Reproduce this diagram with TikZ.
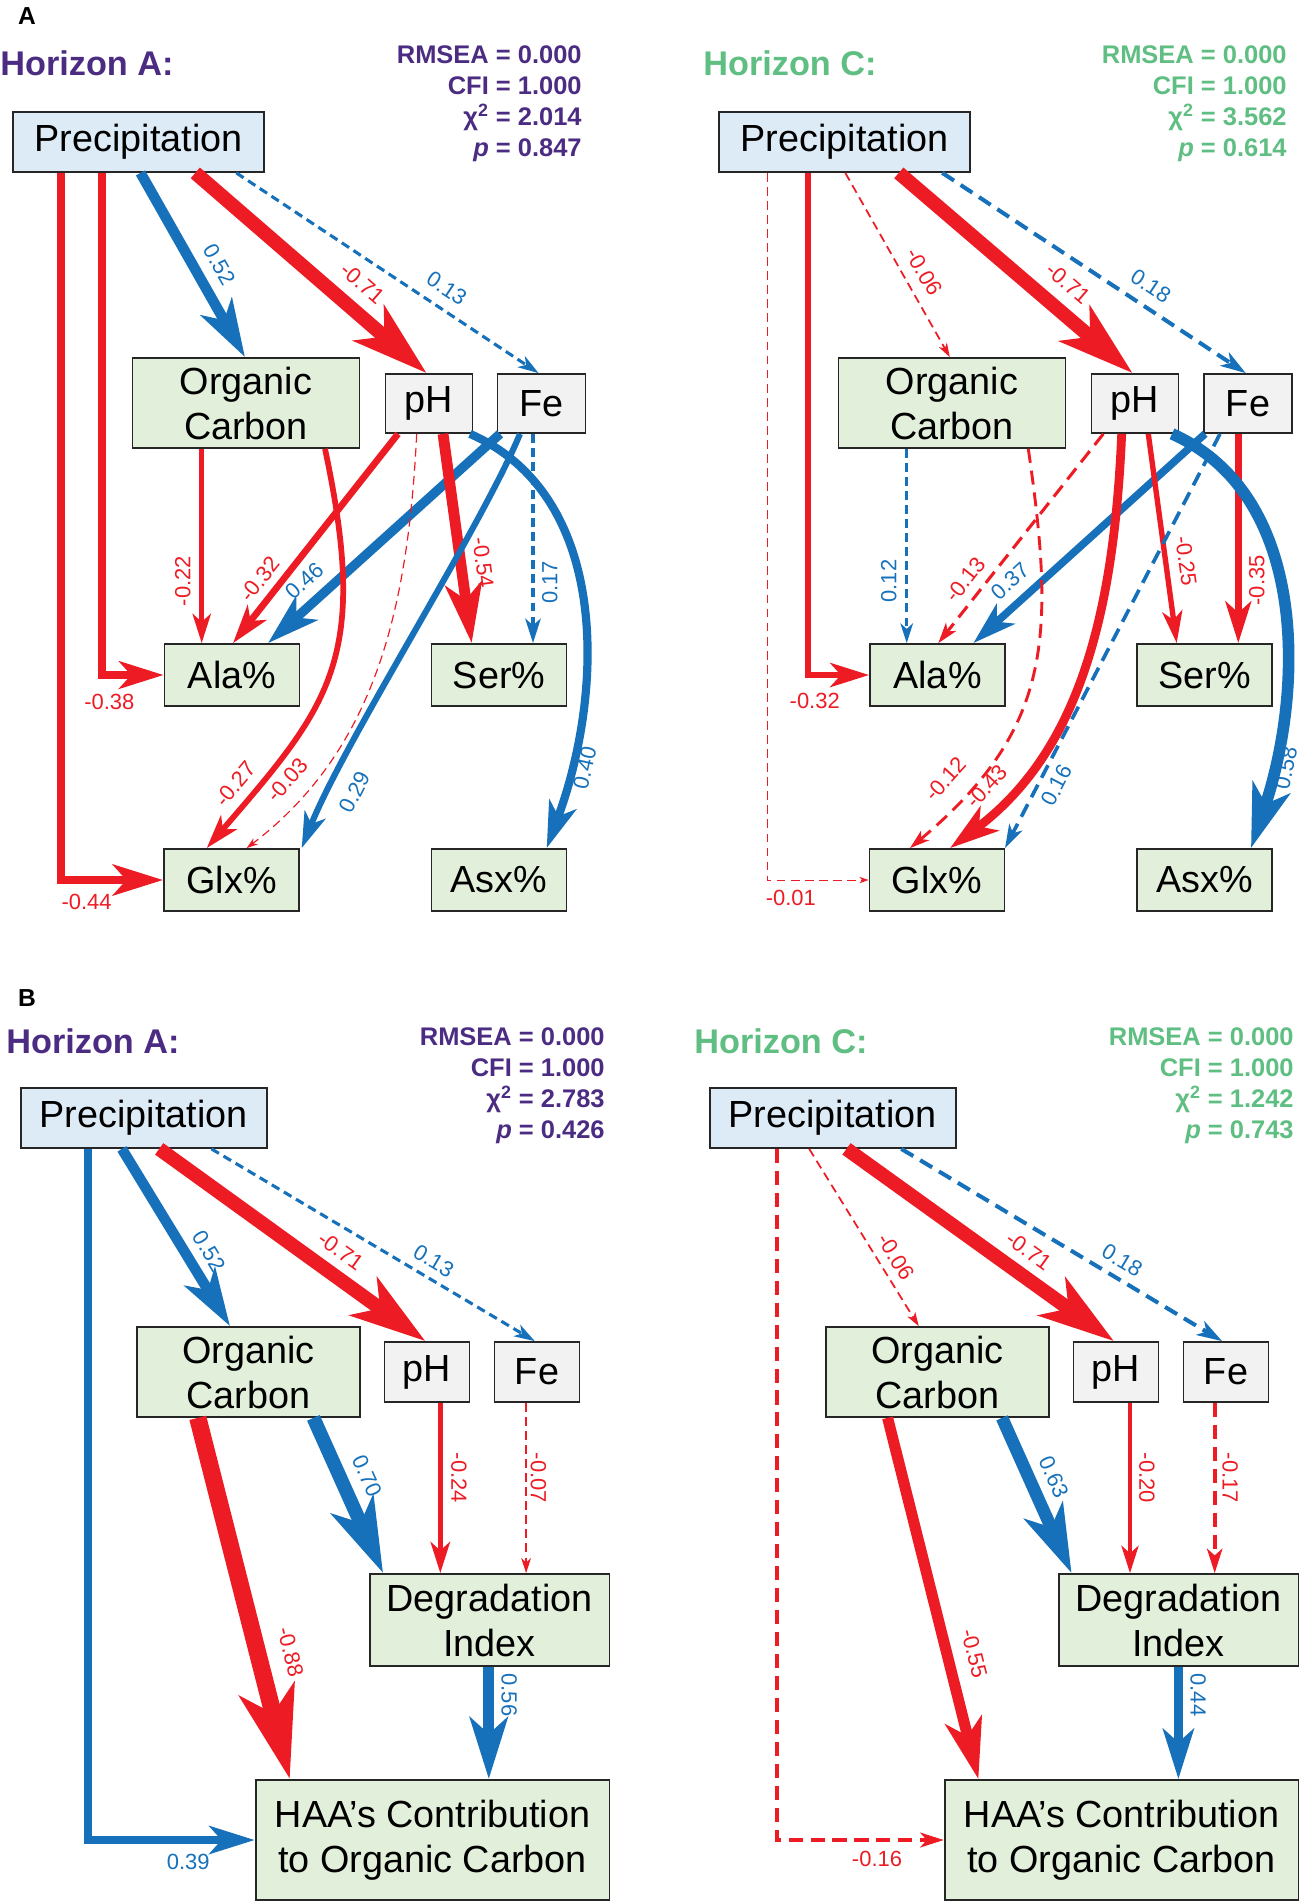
\documentclass[tikz,border=0pt]{standalone}
\usepackage{fontspec}
\setmainfont{Liberation Sans}
\usetikzlibrary{arrows.meta}

\definecolor{pathred}{RGB}{237,28,36}
\definecolor{pathblue}{RGB}{22,113,186}
\definecolor{horA}{RGB}{75,44,130}
\definecolor{horC}{RGB}{95,190,130}
\definecolor{fillblue}{RGB}{221,235,247}
\definecolor{fillgreen}{RGB}{226,239,218}
\definecolor{fillgray}{RGB}{242,242,242}

\tikzset{
  box/.style={draw=black!85, line width=1pt, align=center, inner sep=0pt,
    font=\fontsize{21.5}{25.6}\selectfont},
  precbox/.style={box, fill=fillblue},
  varbox/.style={box, fill=fillgreen},
  soilbox/.style={box, fill=fillgray},
  aabox/.style={varbox, minimum width=2.7cm, minimum height=1.24cm},
  wt/.style={line width=0.35pt+10.8pt*#1},
  rd/.style={color=pathred},
  bl/.style={color=pathblue},
  dsh/.style={dash pattern=on 5pt off 3pt},
  dshb/.style={dash pattern=on 8pt off 4.5pt},
  arr/.style={-{Stealth[length=3pt 5, width=2.2pt 3, inset=1pt 1.3]}},
  lbl/.style={inner sep=1pt, font=\fontsize{12.5}{14}\selectfont},
  horizon/.style={anchor=west, inner sep=0pt, font=\bfseries\fontsize{19.5}{23}\selectfont},
  fit stats/.style={anchor=east, align=right, inner sep=0pt,
    font=\bfseries\fontsize{14.5}{17.6}\selectfont},
  panel/.style={inner sep=0pt, font=\bfseries\fontsize{14}{16}\selectfont}
}

\begin{document}
\begin{tikzpicture}[x=0.02cm, y=-0.02cm]
  \useasboundingbox (0,0) rectangle (1299,1901);

  \node[panel] (lblA) at (27,16) {A};
  \node[panel] (lblB) at (27,998) {B};

  % A, horizon A
  \begin{scope}[name prefix=aa-]
    \node[horizon, text=horA] (ttl) at (0,63) {Horizon A:};
    \node[fit stats, text=horA] (fit) at (582,104) {RMSEA = 0.000\\CFI = 1.000\\χ\textsuperscript{2} = 2.014\\\textit{p} = 0.847};
    \node[precbox, minimum width=5.02cm, minimum height=1.2cm] (pr) at (138.5,142) {Precipitation};
    \node[varbox, minimum width=4.54cm, minimum height=1.8cm] (oc) at (246,403) {Organic\\Carbon};
    \node[soilbox, minimum width=1.74cm, minimum height=1.18cm] (ph) at (429,403.5) {pH};
    \node[soilbox, minimum width=1.76cm, minimum height=1.18cm] (fe) at (541.5,403.5) {Fe};
    \node[aabox] (ala) at (232,675) {Ala\%};
    \node[aabox] (ser) at (499,675) {Ser\%};
    \node[aabox] (glx) at (231.5,880) {Glx\%};
    \node[aabox] (asx) at (499,880) {Asx\%};

    \draw[rd, wt=0.44, arr] (pr.south -| 61,0) |- (glx.west) node[lbl, below=4.5pt, pos=0.625] {-0.44};
    \draw[rd, wt=0.38, arr] (pr.south -| 102,0) |- (ala.west) node[lbl, below=7.5pt, pos=0.56] {-0.38};
    \draw[bl, wt=0.52, arr] (pr.south -| 140.5,0) -- (oc.north -| 245,0) node[lbl, sloped, above=4.9pt, pos=0.56] {0.52};
    \draw[rd, wt=0.71, arr] (pr.south -| 195.3,0) -- (ph.north -| 426.6,0) node[lbl, sloped, above=5.2pt, pos=0.65] {-0.71};
    \draw[bl, wt=0.13, dsh, arr] (pr.south -| 236.3,0) -- (fe.north -| 538.6,0) node[lbl, sloped, above=5pt, pos=0.66] {0.13};
    \draw[rd, wt=0.22, arr] (oc.south -| 201.7,0) -- (ala.north -| 201.7,0) node[lbl, xshift=-4pt, rotate=90, anchor=south, pos=0.68] {-0.22};
    \draw[rd, wt=0.32, arr] (ph.south -| 398,0) -- (ala.north -| 233,0) node[lbl, sloped, above=3.2pt, pos=0.75] {-0.32};
    \draw[bl, wt=0.46, arr] (fe.south -| 500,0) -- (ala.north -| 268,0) node[lbl, sloped, above=4.5pt, pos=0.78] {0.46};
    \draw[rd, wt=0.54, arr] (ph.south -| 443,0) -- (ser.north -| 471.7,0) node[lbl, sloped, above=4.2pt, pos=0.63] {-0.54};
    \draw[bl, wt=0.17, dsh, arr] (fe.south -| 533,0) -- (ser.north -| 533,0) node[lbl, xshift=3pt, rotate=90, anchor=north, pos=0.71] {0.17};
    \draw[bl, wt=0.29, arr] (fe.south -| 520,0) .. controls (480,530) and (345,740) .. (glx.north -| 301.7,0) node[lbl, sloped, below=6.8pt, pos=0.82] {0.29};
    \draw[bl, wt=0.40, arr] (ph.south -| 470,0) .. controls (610,495) and (605,690) .. (asx.north -| 546.7,0) node[lbl, sloped, below=0pt, pos=0.83] {0.40};
    \draw[rd, wt=0.27, arr] (oc.south -| 325,0) .. controls (370,660) and (330,705) .. (glx.north -| 206.7,0) node[lbl, sloped, above=4.3pt, pos=0.87] {-0.27};
    \draw[rd, wt=0.03, dsh, arr] (ph.south -| 416.7,0) .. controls (408,610) and (375,750) .. (glx.north -| 246.7,0) node[lbl, sloped, above=7pt, pos=0.83] {-0.03};
  \end{scope}

  % A, horizon C
  \begin{scope}[shift={(706,0)}, name prefix=ac-]
    \node[horizon, text=horC] (ttl) at (-3,63) {Horizon C:};
    \node[fit stats, text=horC] (fit) at (581,104) {RMSEA = 0.000\\CFI = 1.000\\χ\textsuperscript{2} = 3.562\\\textit{p} = 0.614};
    \node[precbox, minimum width=5.02cm, minimum height=1.2cm] (pr) at (138.5,142) {Precipitation};
    \node[varbox, minimum width=4.54cm, minimum height=1.8cm] (oc) at (246,403) {Organic\\Carbon};
    \node[soilbox, minimum width=1.74cm, minimum height=1.18cm] (ph) at (429,403.5) {pH};
    \node[soilbox, minimum width=1.76cm, minimum height=1.18cm] (fe) at (542,403.5) {Fe};
    \node[aabox] (ala) at (231.5,675) {Ala\%};
    \node[aabox] (ser) at (498.5,675) {Ser\%};
    \node[aabox] (glx) at (231,880) {Glx\%};
    \node[aabox] (asx) at (498.5,880) {Asx\%};

    \draw[rd, wt=0.01, dsh, arr] (pr.south -| 61,0) |- (glx.west) node[lbl, below=4.5pt, pos=0.617] {-0.01};
    \draw[rd, wt=0.32, arr] (pr.south -| 102,0) |- (ala.west) node[lbl, below=7.5pt, pos=0.555] {-0.32};
    \draw[rd, wt=0.06, dsh, arr] (pr.south -| 139.3,0) -- (oc.north -| 243.8,0) node[lbl, sloped, above=5.4pt, pos=0.59] {-0.06};
    \draw[rd, wt=0.71, arr] (pr.south -| 192.8,0) -- (ph.north -| 426.6,0) node[lbl, sloped, above=5.6pt, pos=0.65] {-0.71};
    \draw[bl, wt=0.18, dshb, arr] (pr.south -| 236.3,0) -- (fe.north -| 539.8,0) node[lbl, sloped, above=5pt, pos=0.65] {0.18};
    \draw[bl, wt=0.12, dsh, arr] (oc.south -| 200.7,0) -- (ala.north -| 200.7,0) node[lbl, xshift=-4pt, rotate=90, anchor=south, pos=0.68] {0.12};
    \draw[rd, wt=0.13, dshb, arr] (ph.south -| 397.3,0) -- (ala.north -| 232.3,0) node[lbl, sloped, above=4pt, pos=0.75] {-0.13};
    \draw[bl, wt=0.37, arr] (fe.south -| 499,0) -- (ala.north -| 267.3,0) node[lbl, sloped, above=4.6pt, pos=0.78] {0.37};
    \draw[rd, wt=0.25, arr] (ph.south -| 442.3,0) -- (ser.north -| 470.7,0) node[lbl, sloped, above=4.6pt, pos=0.62] {-0.25};
    \draw[rd, wt=0.35, arr] (fe.south -| 532.3,0) -- (ser.north -| 532.3,0) node[lbl, xshift=3pt, rotate=90, anchor=north, pos=0.7] {-0.35};
    \draw[bl, wt=0.16, dshb, arr] (fe.south -| 514,0) -- (glx.north -| 299,0) node[lbl, sloped, below=3.2pt, pos=0.83] {0.16};
    \draw[bl, wt=0.58, arr] (ph.south -| 466,0) .. controls (603,495) and (598,690) .. (asx.north -| 545,0) node[lbl, sloped, below=-1.5pt, pos=0.83] {0.58};
    \draw[rd, wt=0.12, dshb, arr] (oc.south -| 322.3,0) .. controls (350,640) and (345,730) .. (glx.north -| 204,0) node[lbl, sloped, above=8.5pt, pos=0.85] {-0.12};
    \draw[rd, wt=0.43, arr] (ph.south -| 415.7,0) .. controls (408,610) and (375,750) .. (glx.north -| 244,0) node[lbl, sloped, above=4.5pt, pos=0.85] {-0.43};
  \end{scope}

  % B, horizon A
  \begin{scope}[name prefix=ba-]
    \node[horizon, text=horA] (ttl) at (6,1041) {Horizon A:};
    \node[fit stats, text=horA] (fit) at (605,1086) {RMSEA = 0.000\\CFI = 1.000\\χ\textsuperscript{2} = 2.783\\\textit{p} = 0.426};
    \node[precbox, minimum width=4.92cm, minimum height=1.2cm] (pr) at (143.7,1118) {Precipitation};
    \node[varbox, minimum width=4.46cm, minimum height=1.8cm] (oc) at (248.3,1372) {Organic\\Carbon};
    \node[soilbox, minimum width=1.7cm, minimum height=1.2cm] (ph) at (427,1372) {pH};
    \node[soilbox, minimum width=1.7cm, minimum height=1.2cm] (fe) at (537,1372) {Fe};
    \node[varbox, minimum width=4.8cm, minimum height=1.84cm] (deg) at (489.6,1620) {Degradation\\Index};
    \node[varbox, minimum width=7.08cm, minimum height=2.4cm] (haa) at (432.6,1840) {HAA’s Contribution\\to Organic Carbon};

    \draw[bl, wt=0.39, arr] (pr.south -| 88.3,0) |- (haa.west) node[lbl, below=4.5pt, pos=0.8] {0.39};
    \draw[bl, wt=0.52, arr] (pr.south -| 121.9,0) -- (oc.north -| 230,0) node[lbl, sloped, above=3.7pt, pos=0.64] {0.52};
    \draw[rd, wt=0.71, arr] (pr.south -| 159.2,0) -- (ph.north -| 425.4,0) node[lbl, sloped, above=4pt, pos=0.63] {-0.71};
    \draw[bl, wt=0.13, dsh, arr] (pr.south -| 211.4,0) -- (fe.north -| 534.8,0) node[lbl, sloped, above=3.6pt, pos=0.66] {0.13};
    \draw[rd, wt=0.88, arr] (oc.south -| 197.8,0) -- (haa.north -| 289.8,0) node[lbl, sloped, above=7.9pt, pos=0.67] {-0.88};
    \draw[bl, wt=0.70, arr] (oc.south -| 313.4,0) -- (deg.north -| 383.1,0) node[lbl, sloped, above=4.9pt, pos=0.44] {0.70};
    \draw[rd, wt=0.24, arr] (ph.south -| 440.3,0) -- (deg.north -| 440.3,0) node[lbl, sloped, above=3.7pt, pos=0.44] {-0.24};
    \draw[rd, wt=0.07, dsh, arr] (fe.south -| 526.1,0) -- (deg.north -| 526.1,0) node[lbl, sloped, above=1pt, pos=0.44] {-0.07};
    \draw[bl, wt=0.56, arr] (deg.south -| 488.8,0) -- (haa.north -| 488.8,0) node[lbl, sloped, above=3pt, pos=0.25] {0.56};
  \end{scope}

  % B, horizon C
  \begin{scope}[shift={(689,0)}, name prefix=bc-]
    \node[horizon, text=horC] (ttl) at (5,1041) {Horizon C:};
    \node[fit stats, text=horC] (fit) at (605,1086) {RMSEA = 0.000\\CFI = 1.000\\χ\textsuperscript{2} = 1.242\\\textit{p} = 0.743};
    \node[precbox, minimum width=4.92cm, minimum height=1.2cm] (pr) at (143.7,1118) {Precipitation};
    \node[varbox, minimum width=4.46cm, minimum height=1.8cm] (oc) at (248.3,1372) {Organic\\Carbon};
    \node[soilbox, minimum width=1.7cm, minimum height=1.2cm] (ph) at (427,1372) {pH};
    \node[soilbox, minimum width=1.7cm, minimum height=1.2cm] (fe) at (537,1372) {Fe};
    \node[varbox, minimum width=4.8cm, minimum height=1.84cm] (deg) at (489.6,1620) {Degradation\\Index};
    \node[varbox, minimum width=7.08cm, minimum height=2.4cm] (haa) at (432.6,1840) {HAA’s Contribution\\to Organic Carbon};

    \draw[rd, wt=0.16, dshb, arr] (pr.south -| 87.9,0) |- (haa.west) node[lbl, below=4.5pt, pos=0.8] {-0.16};
    \draw[rd, wt=0.06, dsh, arr] (pr.south -| 120.2,0) -- (oc.north -| 229.7,0) node[lbl, sloped, above=3.8pt, pos=0.66] {-0.06};
    \draw[rd, wt=0.71, arr] (pr.south -| 157.5,0) -- (ph.north -| 424.9,0) node[lbl, sloped, above=4pt, pos=0.63] {-0.71};
    \draw[bl, wt=0.18, dshb, arr] (pr.south -| 212.3,0) -- (fe.north -| 533.1,0) node[lbl, sloped, above=3.6pt, pos=0.66] {0.18};
    \draw[rd, wt=0.55, arr] (oc.south -| 198.6,0) -- (haa.north -| 289.4,0) node[lbl, sloped, above=6.6pt, pos=0.67] {-0.55};
    \draw[bl, wt=0.63, arr] (oc.south -| 313,0) -- (deg.north -| 382.6,0) node[lbl, sloped, above=4.2pt, pos=0.44] {0.63};
    \draw[rd, wt=0.20, arr] (ph.south -| 441,0) -- (deg.north -| 441,0) node[lbl, sloped, above=3pt, pos=0.44] {-0.20};
    \draw[rd, wt=0.17, dshb, arr] (fe.south -| 525.7,0) -- (deg.north -| 525.7,0) node[lbl, sloped, above=2.3pt, pos=0.44] {-0.17};
    \draw[bl, wt=0.44, arr] (deg.south -| 489.4,0) -- (haa.north -| 489.4,0) node[lbl, sloped, above=3.3pt, pos=0.25] {0.44};
  \end{scope}
\end{tikzpicture}
\end{document}
